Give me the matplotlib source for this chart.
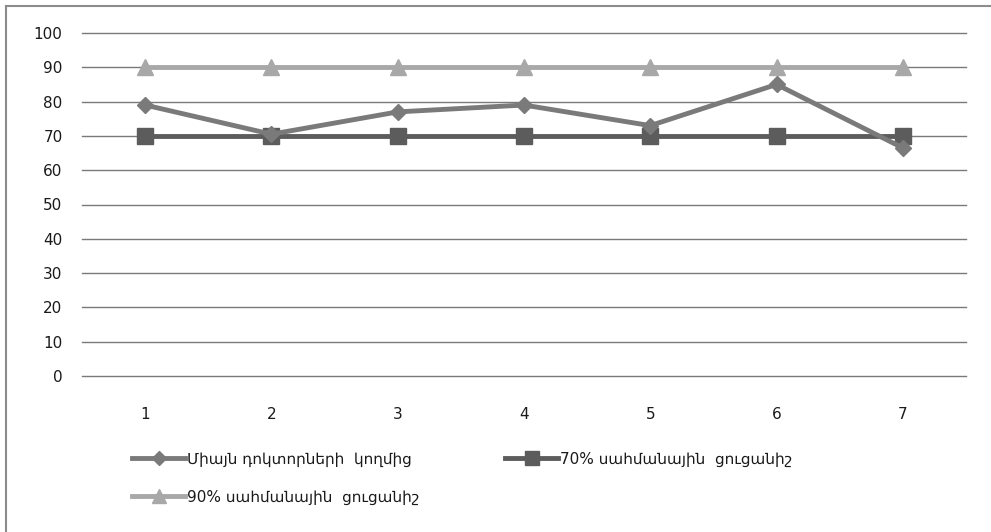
import numpy as np
from matplotlib import pyplot as plt
from matplotlib.lines import Line2D

plt.rcParams['font.family'] = ['DejaVu Sans']

categories = ['1', '2', '3', '4', '5', '6', '7']
doctors = [79, 70.5, 77, 79, 73, 85, 66.5]
limit70 = [70, 70, 70, 70, 70, 70, 70]
limit90 = [90, 90, 90, 90, 90, 90, 90]
labels = ['Միայն դոկտորների  կողմից',
          '70% սահմանային  ցուցանիշ',
          '90% սահմանային  ցուցանիշ']
yticks = [0, 10, 20, 30, 40, 50, 60, 70, 80, 90, 100]

W, H = 991, 532
fig = plt.figure(figsize=(W / 100, H / 100), dpi=100)
# plot area in pixels: x 82..966, y 33..376
ax = fig.add_axes([82 / W, 1 - 376 / H, (966 - 82) / W, (376 - 33) / H])

x = np.arange(len(categories))
c1, c2, c3 = '#7a7a7a', '#5c5c5c', '#a8a8a8'
ax.plot(x, limit90, color=c3, lw=3.5, marker='^', ms=12, zorder=3)
ax.plot(x, limit70, color=c2, lw=3.5, marker='s', ms=12, zorder=4)
ax.plot(x, doctors, color=c1, lw=3.5, marker='D', ms=8, zorder=5)

ax.set_xlim(-0.5, len(categories) - 0.5)
ax.set_ylim(0, 100)
ax.set_yticks(yticks)
ax.set_xticks(x)
ax.set_xticklabels(categories)
for yv in yticks:
    ax.axhline(yv, color='#7a7a7a', lw=1, zorder=1, clip_on=False)
for s in ax.spines.values():
    s.set_visible(False)
ax.tick_params(length=0, labelsize=11, colors='#1a1a1a')
ax.tick_params(axis='y', pad=14)
ax.tick_params(axis='x', pad=22)

# outer chart border (left/top visible, rest cropped)
fig.add_artist(Line2D([6 / W, 6 / W], [0, 1 - 6 / H], color='#8c8c8c', lw=1.5))
fig.add_artist(Line2D([6 / W, 1], [1 - 6 / H, 1 - 6 / H], color='#8c8c8c', lw=1.5))

def entry(handle, text, px, py):
    lg = fig.legend([handle], [text], loc='center left',
                    bbox_to_anchor=(px / W, 1 - py / H), frameon=False,
                    handlelength=3.5, handletextpad=0.1, borderpad=0,
                    borderaxespad=0, fontsize=11)
    for t in lg.get_texts():
        t.set_color('#1a1a1a')
    return lg

h1 = Line2D([], [], color=c1, lw=3.5, marker='D', ms=7)
h2 = Line2D([], [], color=c2, lw=3.5, marker='s', ms=10)
h3 = Line2D([], [], color=c3, lw=3.5, marker='^', ms=10)
entry(h1, labels[0], 132, 459)
entry(h2, labels[1], 505, 459)
entry(h3, labels[2], 132, 497)

fig.savefig('out.png', dpi=100)
